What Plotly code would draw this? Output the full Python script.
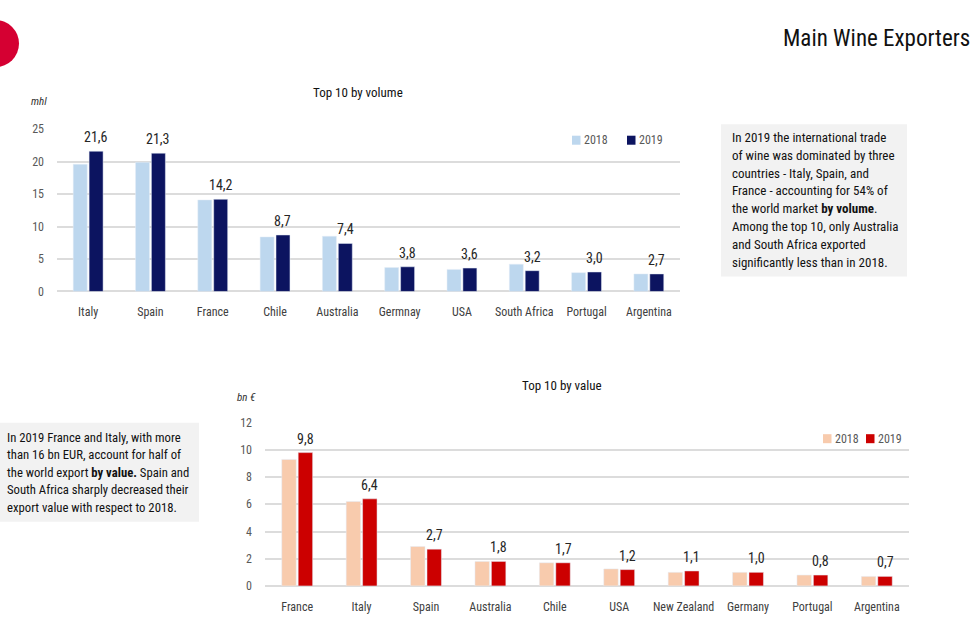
import plotly.graph_objects as go

W, H = 977, 624

# ---- data ----
vol_countries = ["Italy", "Spain", "France", "Chile", "Australia", "Germnay", "USA",
                 "South Africa", "Portugal", "Argentina"]
vol_2018 = [19.6, 19.9, 14.1, 8.4, 8.5, 3.7, 3.4, 4.2, 2.9, 2.7]
vol_2019 = [21.6, 21.3, 14.2, 8.7, 7.4, 3.8, 3.6, 3.2, 3.0, 2.7]
vol_ticks = [0, 5, 10, 15, 20, 25]

val_countries = ["France", "Italy", "Spain", "Australia", "Chile", "USA", "New Zealand",
                 "Germany", "Portugal", "Argentina"]
val_2018 = [9.3, 6.2, 2.9, 1.8, 1.7, 1.25, 1.0, 1.0, 0.8, 0.7]
val_2019 = [9.8, 6.4, 2.7, 1.8, 1.7, 1.2, 1.1, 1.0, 0.8, 0.7]
val_ticks = [0, 2, 4, 6, 8, 10, 12]

years = ["2018", "2019"]

text_volume = ["In 2019 the international trade", "of wine was dominated by three",
               "countries - Italy, Spain, and", "France - accounting for 54% of",
               "the world market <b>by volume</b>.", "Among the top 10, only Australia",
               "and South Africa exported", "significantly less than in 2018."]
text_value = ["In 2019 France and Italy, with more", "than 16 bn EUR, account for half of",
              "the world export <b>by value.</b> Spain and", "South Africa sharply decreased their",
              "export value with respect to 2018."]

# ---- style ----
FONT = "Roboto Condensed, DejaVu Sans Condensed, sans-serif"
C_V18, C_V19 = "#bdd7ee", "#0c1460"
C_E18, C_E19 = "#f8cbad", "#cc0000"
GRID = "#dcdcdc"
TXT = "#262626"
TICK = "#595959"
BARGAP, GROUPGAP = 0.49, 0.12


def px(x):
    return x / W


def py(y):
    # vertical placement (pixels from top), compensated for the capture's vertical mapping
    return 1 - ((y - 7) / 0.976) / H


def lab(v):
    return [f"{x:.1f}".replace(".", ",") for x in v]


fig = go.Figure()

fig.add_trace(go.Bar(x=vol_countries, y=vol_2018, name=years[0], marker_color=C_V18,
                     xaxis="x", yaxis="y", showlegend=False))
fig.add_trace(go.Bar(x=vol_countries, y=vol_2019, name=years[1], marker_color=C_V19,
                     xaxis="x", yaxis="y", showlegend=False))
fig.add_trace(go.Bar(x=val_countries, y=val_2018, name=years[0], marker_color=C_E18,
                     xaxis="x2", yaxis="y2", showlegend=False))
fig.add_trace(go.Bar(x=val_countries, y=val_2019, name=years[1], marker_color=C_E19,
                     xaxis="x2", yaxis="y2", showlegend=False))

xcommon = dict(showgrid=False, zeroline=False, showline=False, ticks="",
               tickfont=dict(family=FONT, size=12, color="#404040"), ticklabelstandoff=12)
ycommon = dict(showgrid=True, gridcolor=GRID, gridwidth=1.5, zeroline=True,
               zerolinecolor=GRID, zerolinewidth=1.5, showline=False, ticks="",
               tickfont=dict(family=FONT, size=12, color=TICK), ticklabelstandoff=12)

dom_x1 = [57, 680]
dom_x2 = [265, 909]

shapes = [
    # red logo circle
    dict(type="circle", xref="paper", yref="paper", x0=px(-28), x1=px(19),
         y0=py(67), y1=py(20), fillcolor="#d50032", line_width=0, layer="above"),
    # grey text boxes
    dict(type="rect", xref="paper", yref="paper", x0=px(721), x1=px(907),
         y0=py(276), y1=py(124), fillcolor="#f2f2f2", line_width=0, layer="below"),
    dict(type="rect", xref="paper", yref="paper", x0=px(0), x1=px(199),
         y0=py(521), y1=py(422), fillcolor="#f2f2f2", line_width=0, layer="below"),
]

annotations = [
    dict(text="Main Wine Exporters", x=px(972), y=py(38), xanchor="right", yanchor="middle",
         font=dict(family=FONT, size=23, color="#111111")),
    dict(text="Top 10 by volume", x=px(358), y=py(92), xanchor="center", yanchor="middle",
         font=dict(family=FONT, size=13, color="#111111")),
    dict(text="<i>mhl</i>", x=px(39), y=py(101), xanchor="center", yanchor="middle",
         font=dict(family=FONT, size=11, color="#333333")),
    dict(text="Top 10 by value", x=px(562), y=py(385), xanchor="center", yanchor="middle",
         font=dict(family=FONT, size=13, color="#111111")),
    dict(text="<i>bn €</i>", x=px(247), y=py(397), xanchor="center", yanchor="middle",
         font=dict(family=FONT, size=11, color="#333333")),
]
for i, line in enumerate(text_volume):
    annotations.append(dict(text=line, x=px(730), y=py(137.3 + i * 17.8), xanchor="left",
                            yanchor="middle", font=dict(family=FONT, size=13, color="#111111")))
for i, line in enumerate(text_value):
    annotations.append(dict(text=line, x=px(5), y=py(436.7 + i * 17.5), xanchor="left",
                            yanchor="middle", font=dict(family=FONT, size=12.7, color="#111111")))

# manual legends
leg = [
    (572, 140, C_V18, years[0]), (627, 140, C_V19, years[1]),
    (823, 438, C_E18, years[0]), (866, 438, C_E19, years[1]),
]
for x0, yc, col, t in leg:
    shapes.append(dict(type="rect", xref="paper", yref="paper", x0=px(x0), x1=px(x0 + 8.5),
                       y0=py(yc + 4.5), y1=py(yc - 4.5), fillcolor=col, line_width=0))
    annotations.append(dict(text=t, x=px(x0 + 10), y=py(yc), xanchor="left", yanchor="middle",
                            font=dict(family=FONT, size=12, color=TICK)))

for a in annotations:
    a.update(xref="paper", yref="paper", showarrow=False)

# value labels above the 2019 bars (placed in data coordinates)
def bar_labels(cats, vals, xref, yref, dom):
    cat_w = (dom[1] - dom[0]) / len(cats)
    shift = cat_w * (1 - BARGAP) / 4
    out = []
    for c, v, t in zip(cats, vals, lab(vals)):
        out.append(dict(text=t, x=c, y=v, xref=xref, yref=yref, xanchor="center",
                        yanchor="bottom", xshift=shift, yshift=4, showarrow=False,
                        font=dict(family=FONT, size=14, color=TXT)))
    return out


annotations += bar_labels(vol_countries, vol_2019, "x", "y", dom_x1)
annotations += bar_labels(val_countries, val_2019, "x2", "y2", dom_x2)

fig.update_layout(
    width=W, height=H, margin=dict(l=0, r=0, t=0, b=0),
    paper_bgcolor="white", plot_bgcolor="white",
    barmode="group", bargap=BARGAP, bargroupgap=GROUPGAP,
    font=dict(family=FONT),
    xaxis=dict(domain=[px(dom_x1[0]), px(dom_x1[1])], anchor="y", **xcommon),
    yaxis=dict(domain=[py(291), py(129)], anchor="x", range=[0, 25], tickvals=vol_ticks, **ycommon),
    xaxis2=dict(domain=[px(dom_x2[0]), px(dom_x2[1])], anchor="y2", **xcommon),
    yaxis2=dict(domain=[py(585), py(422)], anchor="x2", range=[0, 12], tickvals=val_ticks, **ycommon),
    shapes=shapes, annotations=annotations, showlegend=False,
)

page_js = ("var s=document.documentElement.style,b=document.body.style;"
           "s.margin='0';s.padding='0';s.overflow='hidden';"
           "b.margin='0';b.padding='0';b.overflow='hidden';")
fig.write_html("out.html", config={"displayModeBar": False}, post_script=page_js)
